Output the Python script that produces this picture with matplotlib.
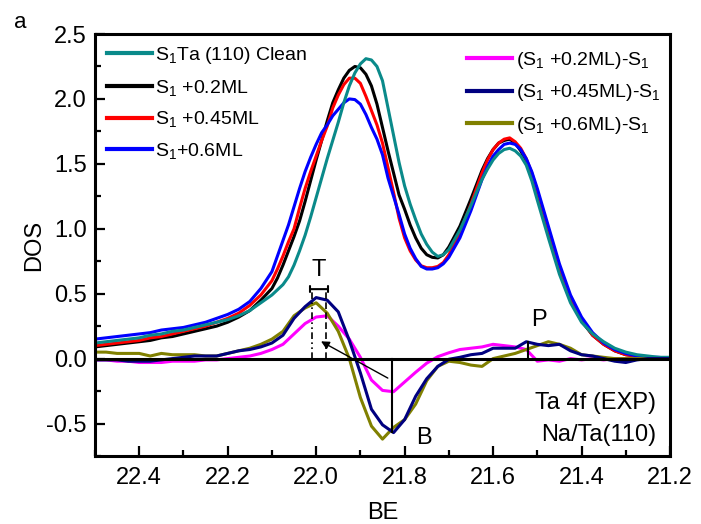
import numpy as np
import matplotlib
matplotlib.use("Agg")
from matplotlib import pyplot as plt
from matplotlib.ticker import MultipleLocator

plt.rcParams['font.family'] = ['Liberation Sans', 'DejaVu Sans']
plt.rcParams['mathtext.fontset'] = 'custom'
plt.rcParams['mathtext.rm'] = 'Liberation Sans'
plt.rcParams['mathtext.it'] = 'Liberation Sans:italic'
plt.rcParams['axes.unicode_minus'] = False

# spectra, finer sampling around the peaks
be_main = [22.500, 22.475, 22.450, 22.425, 22.400, 22.375, 22.350, 22.325, 22.300, 22.275,
           22.250, 22.225, 22.200, 22.175, 22.150, 22.125, 22.100,
           22.0875, 22.075, 22.0625, 22.050, 22.0375, 22.025, 22.0125, 22.000,
           21.9875, 21.975, 21.9625, 21.950, 21.9375, 21.925, 21.9125, 21.900,
           21.8875, 21.875, 21.8625, 21.850, 21.8375, 21.825, 21.8125, 21.800,
           21.7875, 21.775, 21.7625, 21.750, 21.7375, 21.725, 21.7125, 21.700,
           21.675, 21.650, 21.625, 21.6125, 21.600, 21.5875, 21.575, 21.5625,
           21.550, 21.5375, 21.525, 21.5125, 21.500,
           21.475, 21.450, 21.425, 21.400, 21.375, 21.350, 21.325, 21.300,
           21.275, 21.250, 21.225, 21.200]

clean = [0.12, 0.13, 0.14, 0.15, 0.16, 0.18, 0.19, 0.21, 0.22, 0.24,
         0.26, 0.28, 0.30, 0.33, 0.37, 0.43, 0.49,
         0.53, 0.57, 0.63, 0.72, 0.83, 0.95, 1.09, 1.24,
         1.39, 1.54, 1.68, 1.82, 1.97, 2.10, 2.20, 2.27,
         2.31, 2.30, 2.25, 2.14, 1.93, 1.72, 1.51, 1.33,
         1.19, 1.07, 0.96, 0.88, 0.82, 0.787, 0.80, 0.84,
         0.99, 1.18, 1.38, 1.46, 1.53, 1.58, 1.61, 1.62,
         1.60, 1.56, 1.49, 1.37, 1.22,
         0.93, 0.65, 0.43, 0.28, 0.19, 0.13, 0.08, 0.05,
         0.03, 0.02, 0.01, 0.01]
ml02 = [0.09, 0.10, 0.11, 0.12, 0.13, 0.14, 0.16, 0.17, 0.19, 0.21,
        0.23, 0.25, 0.28, 0.32, 0.37, 0.45, 0.54,
        0.62, 0.72, 0.83, 0.94, 1.06, 1.21, 1.37, 1.53,
        1.68, 1.83, 1.97, 2.07, 2.16, 2.22, 2.25, 2.24,
        2.19, 2.10, 1.96, 1.78, 1.60, 1.43, 1.26, 1.15,
        1.03, 0.93, 0.85, 0.80, 0.78, 0.775, 0.80, 0.86,
        1.02, 1.23, 1.45, 1.54, 1.61, 1.66, 1.68, 1.69,
        1.66, 1.60, 1.52, 1.40, 1.25,
        0.96, 0.68, 0.45, 0.29, 0.18, 0.11, 0.06, 0.03,
        0.02, 0.01, 0.0, 0.0]
ml045 = [0.10, 0.11, 0.12, 0.13, 0.14, 0.16, 0.17, 0.19, 0.21, 0.23,
         0.25, 0.28, 0.31, 0.35, 0.41, 0.49, 0.60,
         0.69, 0.79, 0.90, 1.00, 1.16, 1.31, 1.44, 1.56,
         1.68, 1.79, 1.93, 2.03, 2.11, 2.16, 2.16, 2.12,
         2.02, 1.91, 1.80, 1.66, 1.47, 1.28, 1.08, 0.93,
         0.83, 0.76, 0.715, 0.70, 0.70, 0.71, 0.74, 0.80,
         0.97, 1.19, 1.43, 1.53, 1.61, 1.66, 1.69, 1.70,
         1.67, 1.62, 1.54, 1.43, 1.29,
         1.00, 0.71, 0.47, 0.30, 0.18, 0.11, 0.06, 0.03,
         0.02, 0.01, 0.0, 0.0]
ml06 = [0.15, 0.16, 0.17, 0.18, 0.19, 0.20, 0.22, 0.23, 0.24, 0.26,
        0.28, 0.31, 0.34, 0.38, 0.44, 0.54, 0.67,
        0.79, 0.91, 1.03, 1.17, 1.31, 1.44, 1.55, 1.65,
        1.74, 1.80, 1.87, 1.92, 1.97, 2.00, 1.995, 1.96,
        1.88, 1.78, 1.69, 1.57, 1.39, 1.25, 1.11, 0.96,
        0.85, 0.77, 0.71, 0.69, 0.69, 0.70, 0.73, 0.78,
        0.93, 1.14, 1.38, 1.48, 1.56, 1.61, 1.65, 1.66,
        1.65, 1.61, 1.54, 1.44, 1.31,
        1.02, 0.73, 0.49, 0.32, 0.20, 0.12, 0.07, 0.04,
        0.02, 0.01, 0.01, 0.0]

# difference spectra
be = [22.500, 22.475, 22.450, 22.425, 22.400, 22.375, 22.350, 22.325, 22.300, 22.275,
      22.250, 22.225, 22.200, 22.175, 22.150, 22.125, 22.100, 22.075, 22.050, 22.025,
      22.000, 21.975, 21.950, 21.925, 21.900, 21.875, 21.850, 21.825, 21.800, 21.775,
      21.750, 21.725, 21.700, 21.675, 21.650, 21.625, 21.600, 21.575, 21.550, 21.525,
      21.500, 21.475, 21.450, 21.425, 21.400, 21.375, 21.350, 21.325, 21.300, 21.275,
      21.250, 21.225, 21.200]
d02 = [-0.01, -0.01, -0.02, -0.02, -0.03, -0.03, -0.03, -0.02, -0.02, -0.02,
       -0.01, -0.01, 0.00, 0.01, 0.02, 0.04, 0.07, 0.11, 0.19, 0.27,
       0.32, 0.33, 0.25, 0.15, 0.01, -0.165, -0.245, -0.255, -0.18, -0.105,
       -0.035, 0.015, 0.045, 0.07, 0.08, 0.09, 0.11, 0.10, 0.09, 0.07,
       -0.02, -0.01, -0.02, 0.0, -0.01, 0.0, -0.01, 0.0, 0.0, 0.0,
       0.0, 0.0, 0.0]
d045 = [-0.01, -0.01, -0.01, -0.02, -0.02, -0.02, -0.01, 0.0, 0.01, 0.02,
        0.02, 0.02, 0.04, 0.06, 0.07, 0.09, 0.12, 0.18, 0.31, 0.40,
        0.47, 0.45, 0.36, 0.14, -0.11, -0.39, -0.51, -0.57, -0.47, -0.29,
        -0.155, -0.06, -0.005, 0.01, 0.03, 0.04, 0.08, 0.08, 0.08, 0.13,
        0.11, 0.10, 0.11, 0.06, 0.03, 0.02, 0.0, -0.02, -0.03, -0.01,
        0.0, 0.0, 0.0]
d06 = [0.05, 0.05, 0.04, 0.04, 0.04, 0.02, 0.04, 0.03, 0.03, 0.03,
       0.02, 0.02, 0.04, 0.06, 0.08, 0.11, 0.15, 0.21, 0.33, 0.39,
       0.43, 0.35, 0.21, 0.0, -0.30, -0.52, -0.62, -0.53, -0.47, -0.35,
       -0.17, -0.06, -0.02, -0.03, -0.05, -0.06, 0.0, 0.02, 0.04, 0.07,
       0.10, 0.13, 0.11, 0.08, 0.03, 0.02, 0.01, 0.0, 0.0, 0.0,
       0.0, 0.0, 0.0]

fig = plt.figure(figsize=(7.01, 5.24), dpi=100)
ax = fig.add_axes([0.1355, 0.1298, 0.8203, 0.8053])

lw = 2.2
kw = dict(lw=lw, solid_joinstyle='round')
l1, = ax.plot(be_main, ml02, color='black', **kw)
l2, = ax.plot(be_main, ml045, color='#ff0000', **kw)
l3, = ax.plot(be_main, ml06, color='#0000ff', **kw)
l0, = ax.plot(be_main, clean, color='#0a8a8a', **kw)
m1, = ax.plot(be, d02, color='#ff00ff', **kw)
m3, = ax.plot(be, d06, color='#808000', **kw)
m2, = ax.plot(be, d045, color='#000080', **kw)
ax.axhline(0, color='black', lw=2.2, zorder=5)

# T, B, P markers
ax.plot([22.010, 22.010], [0, 0.53], color='black', lw=1.2, ls=(0, (4, 2, 1, 2, 1, 2)))
ax.plot([21.977, 21.977], [0, 0.53], color='black', lw=1.2, ls=(0, (4, 2)))
ax.annotate('', xy=(22.013, 0.535), xytext=(21.974, 0.535),
            arrowprops=dict(arrowstyle='|-|, widthA=0.22, widthB=0.22', lw=1.5,
                            shrinkA=0, shrinkB=0))
ax.text(21.995, 0.685, 'T', fontsize=17, ha='center', va='center')
ax.plot([21.828, 21.828], [0, -0.565], color='black', lw=1.5)
ax.text(21.756, -0.61, 'B', fontsize=17, ha='center', va='center')
ax.plot([21.521, 21.521], [0, 0.13], color='black', lw=1.5)
ax.text(21.497, 0.30, 'P', fontsize=17, ha='center', va='center')
ax.annotate('', xy=(21.989, 0.133), xytext=(21.838, -0.15),
            arrowprops=dict(arrowstyle='-|>', lw=1.0, color='black',
                            mutation_scale=12, shrinkA=0, shrinkB=0))

ax.text(21.232, -0.34, 'Ta 4f (EXP)', fontsize=17, ha='right', va='center')
ax.text(21.232, -0.585, 'Na/Ta(110)', fontsize=17, ha='right', va='center')

ax.set_xlim(22.5, 21.2)
ax.set_ylim(-0.75, 2.5)
ax.xaxis.set_major_locator(MultipleLocator(0.2))
ax.xaxis.set_minor_locator(MultipleLocator(0.1))
ax.yaxis.set_major_locator(MultipleLocator(0.5))
ax.yaxis.set_minor_locator(MultipleLocator(0.25))
ax.xaxis.set_major_formatter(plt.FuncFormatter(lambda v, p: '%.1f' % v))
ax.yaxis.set_major_formatter(plt.FuncFormatter(lambda v, p: '%.1f' % v))
ax.tick_params(which='both', direction='in', width=1.6, labelsize=17)
ax.tick_params(axis='x', pad=8)
ax.tick_params(axis='y', pad=6)
ax.tick_params(which='major', length=7)
ax.tick_params(which='minor', length=4)
for s in ax.spines.values():
    s.set_linewidth(2.2)

ax.set_xlabel('BE', fontsize=17, labelpad=9)
ax.set_ylabel('DOS', fontsize=17, labelpad=1)
fig.text(0.029, 0.958, 'a', fontsize=16, ha='center', va='center')

leg1 = ax.legend([l0, l1, l2, l3],
                 ['S$_1$Ta (110) Clean', 'S$_1$ +0.2ML', 'S$_1$ +0.45ML', 'S$_1$+0.6ML'],
                 loc='upper left', bbox_to_anchor=(-0.003, 1.006), frameon=False,
                 fontsize=14, handlelength=2.3, handletextpad=0.2,
                 labelspacing=0.6, borderaxespad=0.3)
for h in leg1.get_lines():
    h.set_linewidth(3)
ax.add_artist(leg1)
leg2 = ax.legend([m1, m2, m3],
                 ['(S$_1$ +0.2ML)-S$_1$', '(S$_1$ +0.45ML)-S$_1$', '(S$_1$ +0.6ML)-S$_1$'],
                 loc='upper left', bbox_to_anchor=(0.624, 0.995), frameon=False,
                 fontsize=14, handlelength=2.3, handletextpad=0.2,
                 labelspacing=0.6, borderaxespad=0.3)
for h in leg2.get_lines():
    h.set_linewidth(3)

fig.savefig('out.png', dpi=100)
